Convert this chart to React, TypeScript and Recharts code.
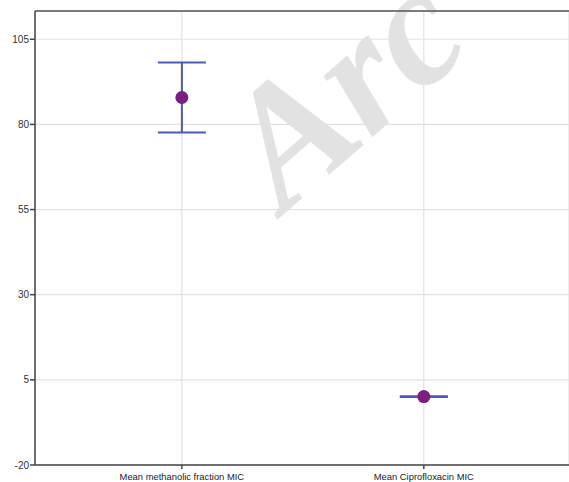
import React from 'react';
import {
  ScatterChart,
  Scatter,
  ErrorBar,
  XAxis,
  YAxis,
  CartesianGrid,
  ReferenceLine,
} from 'recharts';

// categories and values
const categories = ['Mean methanolic fraction MIC', 'Mean Ciprofloxacin MIC'];
const means = [87.9, 0.1];
const errors = [10.3, 0.1];
const yTicks = [-20, 5, 30, 55, 80, 105];
const Y_MAX = 113.3;

const data = categories.map((name, i) => ({
  pos: i + 1,
  name,
  mean: means[i],
  err: errors[i],
}));

const Dot = (props: any) => {
  const { cx, cy } = props;
  if (cx == null || cy == null) return null;
  return <circle cx={cx} cy={cy} r={6.5} fill="#7a1e80" />;
};

const App: React.FC = () => {
  return (
    <div style={{ position: 'absolute', left: 0, top: 0, width: 569, height: 482, background: '#fff' }}>
      <svg
        width={569}
        height={482}
        style={{ position: 'absolute', left: 0, top: 0, pointerEvents: 'none' }}
      >
        {/* watermark */}
        <text
          x={284}
          y={214}
          transform="rotate(-41 284 214)"
          fontFamily="Liberation Serif, serif"
          fontWeight="bold"
          fontStyle="italic"
          fontSize={170}
          fill="#e2e2e2"
        >
          Arc
        </text>
      </svg>
      <ScatterChart width={569} height={482} margin={{ top: 11, right: 0, left: 0, bottom: 0 }}>
        <CartesianGrid stroke="#e2e2e2" strokeWidth={1.2} />
        <XAxis
          type="number"
          dataKey="pos"
          domain={[0.393, 2.6]}
          ticks={[1, 2]}
          tickFormatter={(v) => categories[v - 1] ?? ''}
          height={17}
          tickSize={4}
          tickMargin={4}
          stroke="#444"
          strokeWidth={1.5}
          tick={{ fontSize: 9.4, fill: '#222', fontFamily: 'Liberation Sans, Arial, sans-serif' }}
          allowDataOverflow
        />
        <YAxis
          type="number"
          dataKey="mean"
          domain={[-20, Y_MAX]}
          ticks={yTicks}
          width={35}
          tickSize={5}
          tickMargin={1}
          stroke="#444"
          strokeWidth={1.5}
          tick={{ fontSize: 10, fill: '#333', fontFamily: 'Liberation Sans, Arial, sans-serif' }}
          allowDataOverflow
        />
        <ReferenceLine y={Y_MAX} stroke="#555" strokeWidth={1.5} />
        <Scatter data={data} shape={<Dot />} isAnimationActive={false}>
          <ErrorBar dataKey="err" direction="y" width={24} stroke="#4a5ab2" strokeWidth={2} />
        </Scatter>
      </ScatterChart>
    </div>
  );
};

export default App;
